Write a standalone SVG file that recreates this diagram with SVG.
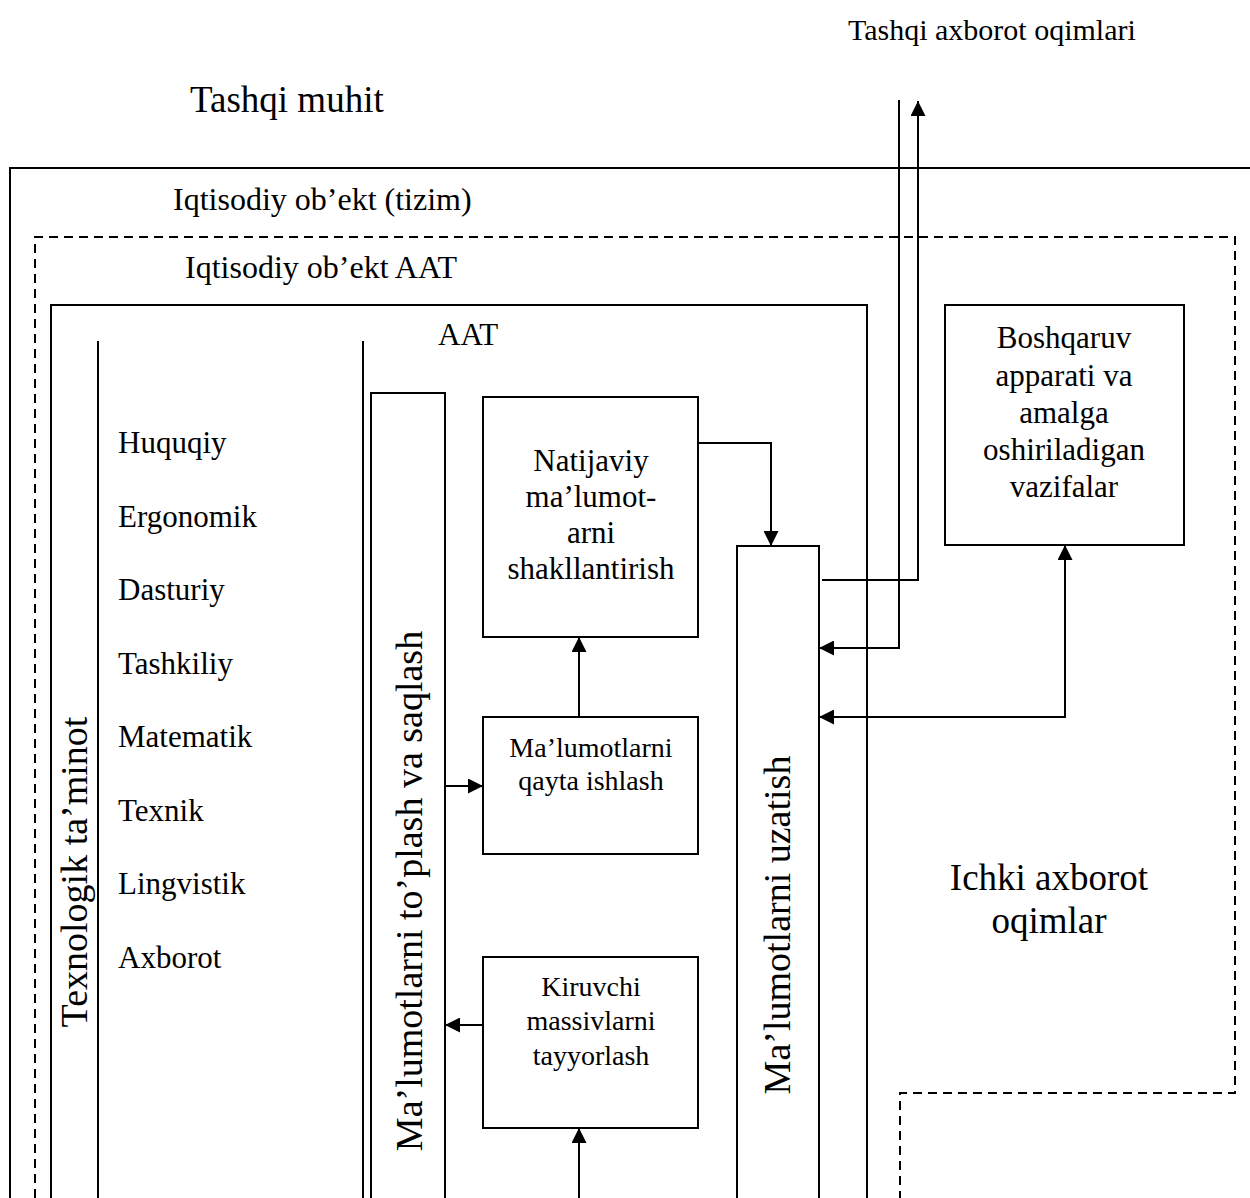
<svg xmlns="http://www.w3.org/2000/svg" width="1250" height="1198" viewBox="0 0 1250 1198">
  <style>
    .ln { fill: none; stroke: #000; stroke-width: 2; }
    .dash { fill: none; stroke: #000; stroke-width: 2; stroke-dasharray: 9 6; }
    .box { fill: #fff; stroke: #000; stroke-width: 2; }
    .cn { fill: none; stroke: #000; stroke-width: 2; }
    text { font-family: "Liberation Serif", "Times New Roman", serif; fill: #000; }
    .lbl { font-size: 30px; }
    .obj { font-size: 32px; }
    .list { font-size: 31px; }
    .big { font-size: 37px; }
    .vert { font-size: 38px; text-anchor: middle; }
    .bx { font-size: 31px; text-anchor: middle; }
    .bxs { font-size: 28px; text-anchor: middle; }
  </style>
  <defs>
    <marker id="arrow" viewBox="0 0 15 15" refX="15" refY="7.5" markerWidth="15" markerHeight="15" markerUnits="userSpaceOnUse" orient="auto-start-reverse">
      <path d="M0,0 L15,7.5 L0,15 Z" fill="#000"/>
    </marker>
  </defs>

  <!-- environment labels -->
  <text class="lbl" x="848" y="40">Tashqi axborot oqimlari</text>
  <text class="big" x="190" y="112">Tashqi muhit</text>

  <!-- economic object (system) boundary -->
  <g id="economic-object">
    <path class="ln" d="M10,1198 V168 H1250"/>
    <text class="obj" x="173" y="210">Iqtisodiy ob’ekt (tizim)</text>
  </g>

  <!-- economic object information system boundary (dashed) -->
  <g id="economic-object-aat">
    <path class="dash" d="M35,1198 V237 H1235 V1093 H900 V1198"/>
    <text class="obj" x="185" y="278">Iqtisodiy ob’ekt AAT</text>
  </g>

  <!-- AAT block -->
  <g id="aat">
    <path class="ln" d="M51,1198 V305 H867 V1198"/>
    <text class="list" x="438" y="345">AAT</text>
    <path class="ln" d="M98,341 V1198"/>
    <path class="ln" d="M363,341 V1198"/>
  </g>

  <!-- technological support -->
  <g id="tech-support">
    <text class="vert" transform="translate(87,872) rotate(-90)">Texnologik ta’minot</text>
    <text class="list" x="118" y="453">Huquqiy</text>
    <text class="list" x="118" y="527">Ergonomik</text>
    <text class="list" x="118" y="600">Dasturiy</text>
    <text class="list" x="118" y="674">Tashkiliy</text>
    <text class="list" x="118" y="747">Matematik</text>
    <text class="list" x="118" y="821">Texnik</text>
    <text class="list" x="118" y="894">Lingvistik</text>
    <text class="list" x="118" y="968">Axborot</text>
  </g>

  <!-- collection and storage column -->
  <g id="collect-store">
    <path class="ln" d="M371,1198 V393 H445 V1198"/>
    <text class="vert" transform="translate(422,891) rotate(-90)">Ma’lumotlarni to’plash va saqlash</text>
  </g>

  <!-- transmission column -->
  <g id="transmit">
    <path class="ln" d="M737,1198 V546 H819 V1198"/>
    <text class="vert" transform="translate(790,925) rotate(-90)">Ma’lumotlarni uzatish</text>
  </g>

  <g id="result-forming">
    <rect class="box" x="483" y="397" width="215" height="240"/>
    <text class="bx" x="591" y="471">Natijaviy</text>
    <text class="bx" x="591" y="507">ma’lumot-</text>
    <text class="bx" x="591" y="543">arni</text>
    <text class="bx" x="591" y="579">shakllantirish</text>
  </g>

  <g id="processing">
    <rect class="box" x="483" y="717" width="215" height="137"/>
    <text class="bxs" x="591" y="757">Ma’lumotlarni</text>
    <text class="bxs" x="591" y="790">qayta ishlash</text>
  </g>

  <g id="input-preparation">
    <rect class="box" x="483" y="957" width="215" height="171"/>
    <text class="bxs" x="591" y="996">Kiruvchi</text>
    <text class="bxs" x="591" y="1030">massivlarni</text>
    <text class="bxs" x="591" y="1065">tayyorlash</text>
  </g>

  <g id="management">
    <rect class="box" x="945" y="305" width="239" height="240"/>
    <text class="bx" x="1064" y="348">Boshqaruv</text>
    <text class="bx" x="1064" y="386">apparati va</text>
    <text class="bx" x="1064" y="423">amalga</text>
    <text class="bx" x="1064" y="460">oshiriladigan</text>
    <text class="bx" x="1064" y="497">vazifalar</text>
  </g>

  <g id="internal-flows">
    <text class="big" x="1049" y="890" text-anchor="middle" font-size="36">Ichki axborot</text>
    <text class="big" x="1049" y="933" text-anchor="middle" font-size="36">oqimlar</text>
  </g>

  <!-- connectors -->
  <g id="connectors">
    <path class="cn" d="M698,443 H771 V546" marker-end="url(#arrow)"/>
    <path class="cn" d="M579,717 V637" marker-end="url(#arrow)"/>
    <path class="cn" d="M445,786 H483" marker-end="url(#arrow)"/>
    <path class="cn" d="M483,1025 H445" marker-end="url(#arrow)"/>
    <path class="cn" d="M579,1198 V1128" marker-end="url(#arrow)"/>
    <path class="cn" d="M822,580 H918 V101" marker-end="url(#arrow)"/>
    <path class="cn" d="M899,100 V648 H819" marker-end="url(#arrow)"/>
    <path class="cn" d="M819,717 H1065 V545" marker-start="url(#arrow)" marker-end="url(#arrow)"/>
  </g>
</svg>
